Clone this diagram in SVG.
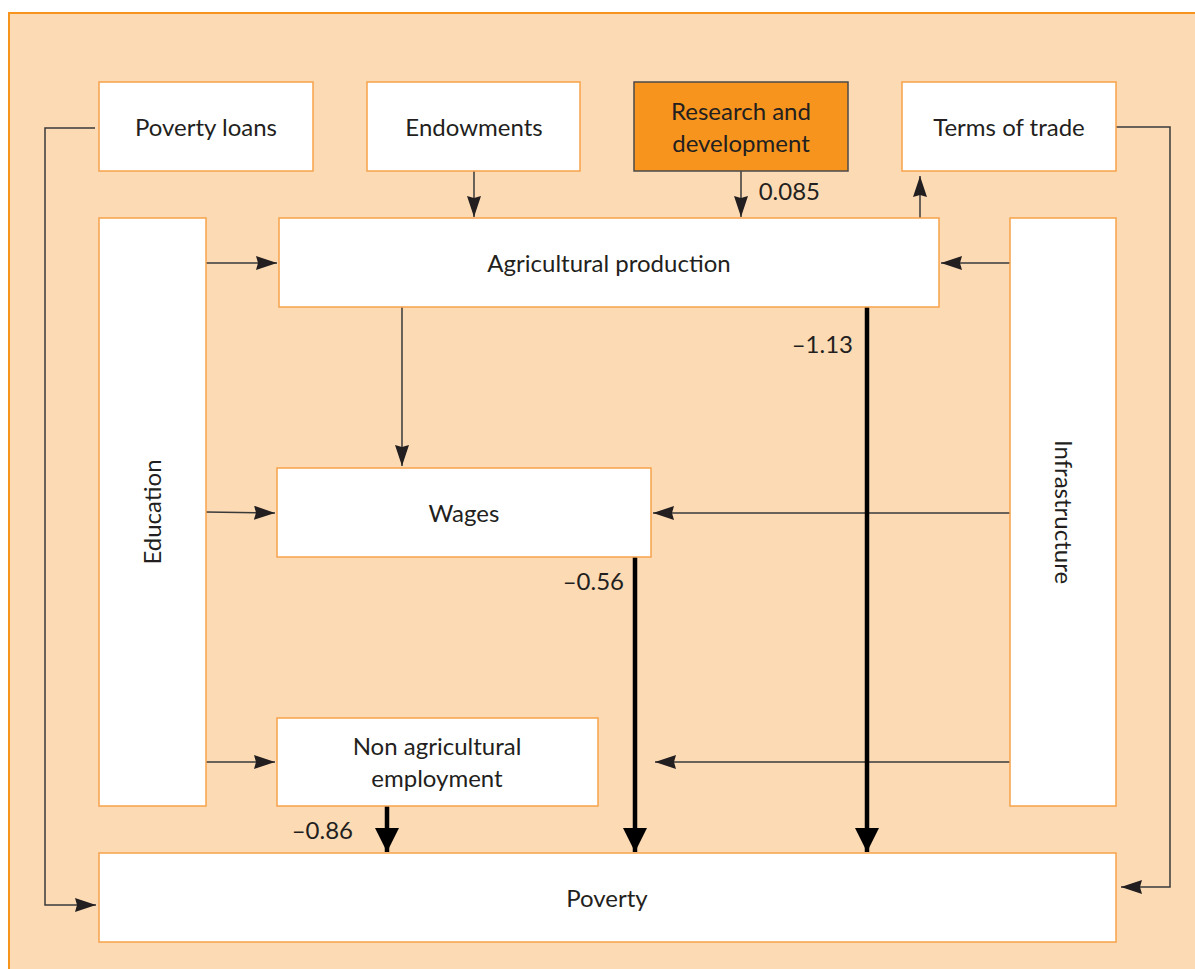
<svg xmlns="http://www.w3.org/2000/svg" width="1195" height="969" viewBox="0 0 1195 969">
<defs>
<style>
.box{fill:#ffffff;stroke:#F7A24A;stroke-width:1.5}
.rd{fill:#F7941D;stroke:#4a4a4a;stroke-width:1.5}
.t{font-family:Lato,"Liberation Sans",sans-serif;font-size:24px;fill:#231F20;text-anchor:middle}
.lbl{font-family:Lato,"Liberation Sans",sans-serif;font-size:24px;fill:#231F20;text-anchor:end}
.thin{stroke:#3a3a3a;stroke-width:1.5;fill:none}
.thick{stroke:#000;stroke-width:4.5;fill:none}
</style>
<marker id="ah" markerUnits="userSpaceOnUse" markerWidth="22" markerHeight="14" refX="21" refY="7" orient="auto">
<path d="M0,0 L21,7 L0,14 L2,7 Z" fill="#231F20"/>
</marker>
<marker id="ahk" markerUnits="userSpaceOnUse" markerWidth="26" markerHeight="26" refX="24" refY="12" orient="auto">
<path d="M0,0 L24,12 L0,24 Z" fill="#000"/>
</marker>
</defs>
<rect x="9" y="13" width="1200" height="970" fill="#FCDAB4" stroke="#F7941D" stroke-width="2"/>
<g id="connectors">
<polyline class="thin" points="95,128 45,128 45,905 96,905" marker-end="url(#ah)"/>
<line class="thin" x1="474" y1="171" x2="474" y2="217" marker-end="url(#ah)"/>
<line class="thin" x1="741" y1="171" x2="741" y2="217" marker-end="url(#ah)"/>
<line class="thin" x1="920" y1="218" x2="920" y2="176" marker-end="url(#ah)"/>
<polyline class="thin" points="1116,127 1170,127 1170,887 1121,887" marker-end="url(#ah)"/>
<line class="thin" x1="206" y1="263" x2="277" y2="263" marker-end="url(#ah)"/>
<line class="thin" x1="206" y1="512" x2="275" y2="513" marker-end="url(#ah)"/>
<line class="thin" x1="206" y1="762" x2="275" y2="762" marker-end="url(#ah)"/>
<line class="thin" x1="1010" y1="263" x2="941" y2="263" marker-end="url(#ah)"/>
<line class="thin" x1="1010" y1="513" x2="653" y2="513" marker-end="url(#ah)"/>
<line class="thin" x1="1010" y1="762" x2="655" y2="762" marker-end="url(#ah)"/>
<line class="thin" x1="402" y1="307" x2="402" y2="466" marker-end="url(#ah)"/>
<line class="thick" x1="867" y1="307" x2="867" y2="852" marker-end="url(#ahk)"/>
<line class="thick" x1="635" y1="557" x2="635" y2="852" marker-end="url(#ahk)"/>
<line class="thick" x1="387" y1="806" x2="387" y2="852" marker-end="url(#ahk)"/>
<text class="lbl" x="820" y="200">0.085</text>
<text class="lbl" x="853" y="353">–1.13</text>
<text class="lbl" x="624" y="590">–0.56</text>
<text class="lbl" x="353" y="839">–0.86</text>
</g>
<g id="poverty-loans"><rect class="box" x="99" y="82" width="214" height="89"/><text class="t" x="206" y="136">Poverty loans</text></g>
<g id="endowments"><rect class="box" x="367" y="82" width="213" height="89"/><text class="t" x="474" y="136">Endowments</text></g>
<g id="research"><rect class="rd" x="634" y="82" width="214" height="89"/><text class="t" x="741" y="120">Research and</text><text class="t" x="741" y="152">development</text></g>
<g id="terms-of-trade"><rect class="box" x="902" y="82" width="214" height="89"/><text class="t" x="1009" y="136">Terms of trade</text></g>
<g id="education"><rect class="box" x="99" y="218" width="107" height="588"/><text class="t" transform="translate(161,512) rotate(-90)">Education</text></g>
<g id="agricultural-production"><rect class="box" x="279" y="218" width="660" height="89"/><text class="t" x="609" y="272">Agricultural production</text></g>
<g id="infrastructure"><rect class="box" x="1010" y="218" width="106" height="588"/><text class="t" transform="translate(1055,512) rotate(90)">Infrastructure</text></g>
<g id="wages"><rect class="box" x="277" y="468" width="374" height="89"/><text class="t" x="464" y="522">Wages</text></g>
<g id="non-agricultural-employment"><rect class="box" x="277" y="718" width="321" height="88"/><text class="t" x="437" y="755">Non agricultural</text><text class="t" x="437" y="787">employment</text></g>
<g id="poverty"><rect class="box" x="99" y="853" width="1017" height="89"/><text class="t" x="607" y="907">Poverty</text></g>
</svg>
